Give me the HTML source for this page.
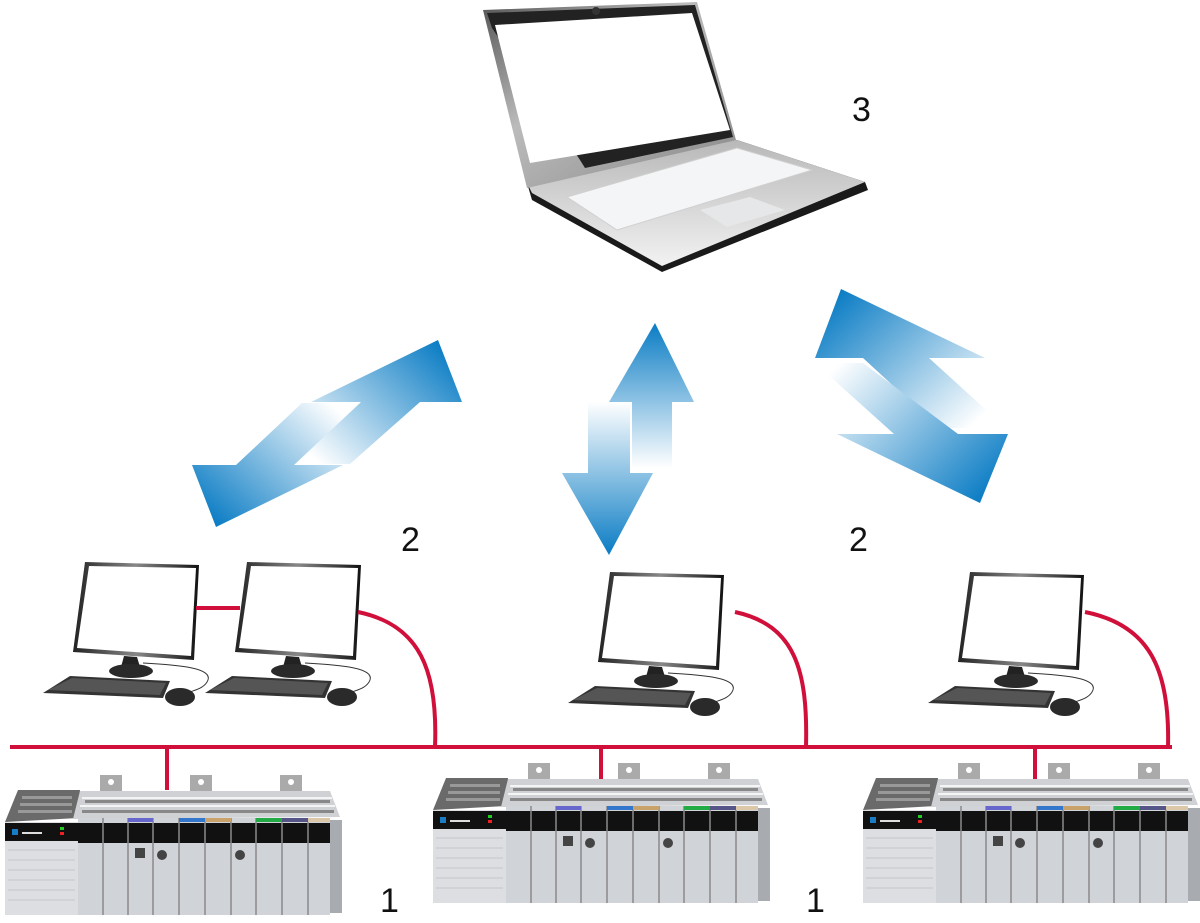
<!DOCTYPE html>
<html><head><meta charset="utf-8"><style>
html,body{margin:0;padding:0;background:#fff;}
svg{display:block;}
text{font-family:"Liberation Sans",sans-serif;font-size:34px;fill:#111;}
</style></head><body>
<svg width="1200" height="923" viewBox="0 0 1200 923" xmlns="http://www.w3.org/2000/svg">
<defs>
<linearGradient id="gA" gradientUnits="userSpaceOnUse" x1="438" y1="340" x2="320" y2="464"><stop offset="0" stop-color="#0a7cc4"/><stop offset="1" stop-color="#fff"/></linearGradient>
<linearGradient id="gB" gradientUnits="userSpaceOnUse" x1="216" y1="527" x2="330" y2="403"><stop offset="0" stop-color="#0a7cc4"/><stop offset="1" stop-color="#fff"/></linearGradient>
<linearGradient id="gU" gradientUnits="userSpaceOnUse" x1="0" y1="323" x2="0" y2="468"><stop offset="0" stop-color="#0a7cc4"/><stop offset="1" stop-color="#fff"/></linearGradient>
<linearGradient id="gD" gradientUnits="userSpaceOnUse" x1="0" y1="555" x2="0" y2="402"><stop offset="0" stop-color="#0a7cc4"/><stop offset="1" stop-color="#fff"/></linearGradient>
<linearGradient id="gC" gradientUnits="userSpaceOnUse" x1="841" y1="289" x2="970" y2="428"><stop offset="0" stop-color="#0a7cc4"/><stop offset="1" stop-color="#fff"/></linearGradient>
<linearGradient id="gE" gradientUnits="userSpaceOnUse" x1="980" y1="503" x2="840" y2="363"><stop offset="0" stop-color="#0a7cc4"/><stop offset="1" stop-color="#fff"/></linearGradient>
<linearGradient id="bez" x1="0" y1="0" x2="1" y2="0"><stop offset="0" stop-color="#222"/><stop offset="0.5" stop-color="#888"/><stop offset="1" stop-color="#111"/></linearGradient>
<linearGradient id="lid" x1="0" y1="0" x2="1" y2="1"><stop offset="0" stop-color="#555"/><stop offset="0.4" stop-color="#bbb"/><stop offset="1" stop-color="#888"/></linearGradient>
<linearGradient id="lapBase" x1="0" y1="0" x2="0" y2="1"><stop offset="0" stop-color="#b8b8b8"/><stop offset="1" stop-color="#f2f2f2"/></linearGradient>

<g id="ws">
  <polygon points="85,562 199,565 194,660 73,652" fill="url(#bez)"/>
  <polygon points="89,566 196,568 191,656 77,648" fill="#fff"/>
  <polygon points="124,656 137,657 140,667 121,667" fill="#222"/>
  <ellipse cx="131" cy="671" rx="22" ry="7" fill="#2a2a2a"/>
  <path d="M143,663 C180,665 212,668 208,680 C205,688 195,690 190,692" fill="none" stroke="#333" stroke-width="1"/>
  <polygon points="70,676 170,681 163,698 43,693" fill="#333"/>
  <polygon points="72,678 166,683 160,695 48,690" fill="#555"/>
  <ellipse cx="180" cy="697" rx="15" ry="9" fill="#2a2a2a"/>
</g>

<g id="plc">
  <rect x="100" y="775" width="22" height="18" fill="#aaa"/>
  <rect x="190" y="775" width="22" height="18" fill="#aaa"/>
  <rect x="280" y="775" width="22" height="18" fill="#aaa"/>
  <circle cx="111" cy="782" r="3" fill="#fff"/><circle cx="201" cy="782" r="3" fill="#fff"/><circle cx="291" cy="782" r="3" fill="#fff"/>
  <polygon points="18,790 80,790 78,818 5,822" fill="#6a6a6a"/>
  <g fill="#999"><rect x="22" y="796" width="50" height="3"/><rect x="20" y="803" width="52" height="3"/><rect x="18" y="810" width="54" height="3"/></g>
  <polygon points="80,791 330,791 340,817 73,819" fill="#cfd1d4"/>
  <g stroke="#fff" stroke-width="1.5"><line x1="82" y1="798" x2="332" y2="798"/><line x1="80" y1="806" x2="335" y2="806"/></g>
  <g fill="#888"><rect x="85" y="800" width="245" height="3"/><rect x="82" y="810" width="252" height="3"/></g>
  <rect x="5" y="822" width="73" height="93" fill="#dcdee1"/>
  <rect x="5" y="823" width="73" height="18" fill="#111"/>
  <rect x="12" y="829" width="6" height="6" fill="#1a7cc4"/><rect x="22" y="832" width="20" height="2" fill="#ddd"/>
  <rect x="60" y="827" width="4" height="3" fill="#2c2"/><rect x="60" y="832" width="4" height="3" fill="#e22"/>
  <g stroke="#c4c6c9" stroke-width="1"><line x1="8" y1="850" x2="75" y2="850"/><line x1="8" y1="860" x2="75" y2="860"/><line x1="8" y1="870" x2="75" y2="870"/><line x1="8" y1="880" x2="75" y2="880"/><line x1="8" y1="890" x2="75" y2="890"/><line x1="8" y1="900" x2="75" y2="900"/></g>
  <rect x="78" y="818" width="252" height="97" fill="#d0d3d7"/>
  <rect x="78" y="823" width="252" height="20" fill="#111"/>
  <g stroke="#8a8a8a" stroke-width="1.5"><line x1="103" y1="818" x2="103" y2="915"/><line x1="128" y1="818" x2="128" y2="915"/><line x1="153" y1="818" x2="153" y2="915"/><line x1="179" y1="818" x2="179" y2="915"/><line x1="205" y1="818" x2="205" y2="915"/><line x1="231" y1="818" x2="231" y2="915"/><line x1="256" y1="818" x2="256" y2="915"/><line x1="282" y1="818" x2="282" y2="915"/><line x1="308" y1="818" x2="308" y2="915"/></g>
  <rect x="128" y="818" width="25" height="4" fill="#66c"/><rect x="179" y="818" width="26" height="4" fill="#37c"/>
  <rect x="205" y="818" width="26" height="4" fill="#c9a26a"/><rect x="256" y="818" width="26" height="4" fill="#2a4"/>
  <rect x="282" y="818" width="26" height="4" fill="#558"/><rect x="308" y="818" width="22" height="4" fill="#dcc7a8"/>
  <rect x="135" y="848" width="10" height="10" fill="#444"/>
  <circle cx="162" cy="855" r="5" fill="#444"/><circle cx="240" cy="855" r="5" fill="#444"/>
  <rect x="330" y="820" width="12" height="93" fill="#a8abaf"/>
</g>
</defs>

<!-- laptop -->
<polygon points="527,183 737,140 865,182 868,190 662,272 532,200" fill="#1a1a1a"/>
<polygon points="527,183 737,140 865,182 662,266 532,193" fill="url(#lapBase)"/>
<polygon points="567,197 737,148 812,170 617,230" fill="#f4f5f6" stroke="#d0d0d0" stroke-width="1"/>
<polygon points="700,210 750,197 785,210 727,227" fill="#e6e7e8"/>
<polygon points="483,10 697,2 736,140 527,188" fill="url(#lid)"/>
<polygon points="487,13 695,5 733,137 585,168 580,160 492,28" fill="#222"/>
<polygon points="495,25 692,13 730,130 530,163" fill="#fff"/>
<circle cx="596" cy="11" r="4" fill="#333"/>

<!-- arrows -->
<polygon points="438,340 462,402 420,402 350,464 292,464 361,402 311,402" fill="url(#gA)"/>
<polygon points="216,527 192,465 236,465 302,403 360,403 294,465 343,465" fill="url(#gB)"/>
<polygon points="655,323 694,402 672,402 672,468 632,468 632,402 609,402" fill="url(#gU)"/>
<polygon points="609,555 653,473 630,473 630,402 588,402 588,473 562,473" fill="url(#gD)"/>
<polygon points="841,289 985,358 929,358 1006,428 939,428 863,358 815,358" fill="url(#gC)"/>
<polygon points="980,503 1008,434 958,434 863,363 815,363 894,434 837,434" fill="url(#gE)"/>

<!-- workstations -->
<use href="#ws"/>
<use href="#ws" transform="translate(162,0)"/>
<use href="#ws" transform="translate(525,10)"/>
<use href="#ws" transform="translate(885,10)"/>

<!-- network -->
<g fill="none" stroke="#d0103a" stroke-width="4">
<line x1="196" y1="608" x2="240" y2="608"/>
<path d="M358,612 C420,625 438,670 435,747"/>
<path d="M735,612 C795,625 808,670 806,747"/>
<path d="M1085,612 C1150,625 1170,670 1168,747"/>
<line x1="10" y1="747" x2="1172" y2="747"/>
<line x1="167" y1="747" x2="167" y2="790"/>
<line x1="601" y1="747" x2="601" y2="780"/>
<line x1="1035" y1="747" x2="1035" y2="780"/>
</g>

<!-- PLCs -->
<use href="#plc"/>
<use href="#plc" transform="translate(428,-12)"/>
<use href="#plc" transform="translate(858,-12)"/>

<text x="852" y="121">3</text>
<text x="401" y="551">2</text>
<text x="849" y="551">2</text>
<text x="380" y="912">1</text>
<text x="806" y="912">1</text>
</svg>
</body></html>
